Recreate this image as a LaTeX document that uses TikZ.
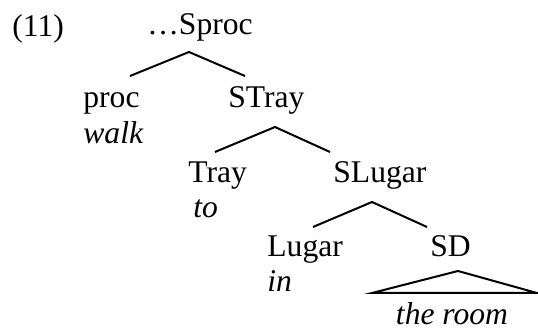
\documentclass[tikz,border=0pt]{standalone}
\usepackage{fontspec}
\setmainfont{Liberation Serif}
\begin{document}
\begin{tikzpicture}[
  x=0.5pt, y=-0.5pt,
  every node/.style={inner sep=0pt, anchor=base west, font=\fontsize{15.8}{19}\selectfont},
  gloss/.style={font=\fontsize{15.8}{19}\selectfont\itshape},
  branch/.style={line width=1pt, line join=miter}
]
\useasboundingbox (0,0) rectangle (538,331);

% =======================
% Labels
% =======================
\node (ex) at (12,37) {(11)};
\node (Sproc) at (147,35) {\ldots Sproc};

\node (proc) at (83,108) {proc};
\node[gloss] (walk) at (83,144) {walk};
\node (STray) at (228,108) {STray};

\node (Tray) at (188,183) {Tray};
\node[gloss] (to) at (193,218) {to};
\node (SLugar) at (333,183) {SLugar};

\node (Lugar) at (267,257) {Lugar};
\node[gloss] (in) at (267,292) {in};
\node (SD) at (430,257) {SD};

\node[gloss, anchor=base] (room) at (452,325) {the room};

% =======================
% Branch points
% =======================
\coordinate (topA) at (189,52);
\coordinate (leftA) at (130,76);
\coordinate (rightA) at (245,76);

\coordinate (topB) at (275,127);
\coordinate (leftB) at (215,152);
\coordinate (rightB) at (330,152);

\coordinate (topC) at (372,202);
\coordinate (leftC) at (313,227);
\coordinate (rightC) at (427,227);

\coordinate (topD) at (458,271);
\coordinate (leftD) at (372,293);
\coordinate (rightD) at (537,293);

% Branches
\draw[branch] (leftA) -- (topA) -- (rightA);
\draw[branch] (leftB) -- (topB) -- (rightB);
\draw[branch] (leftC) -- (topC) -- (rightC);

% Triangle over SD
\draw[branch] (topD) -- (leftD) -- (rightD) -- cycle;

\end{tikzpicture}
\end{document}
